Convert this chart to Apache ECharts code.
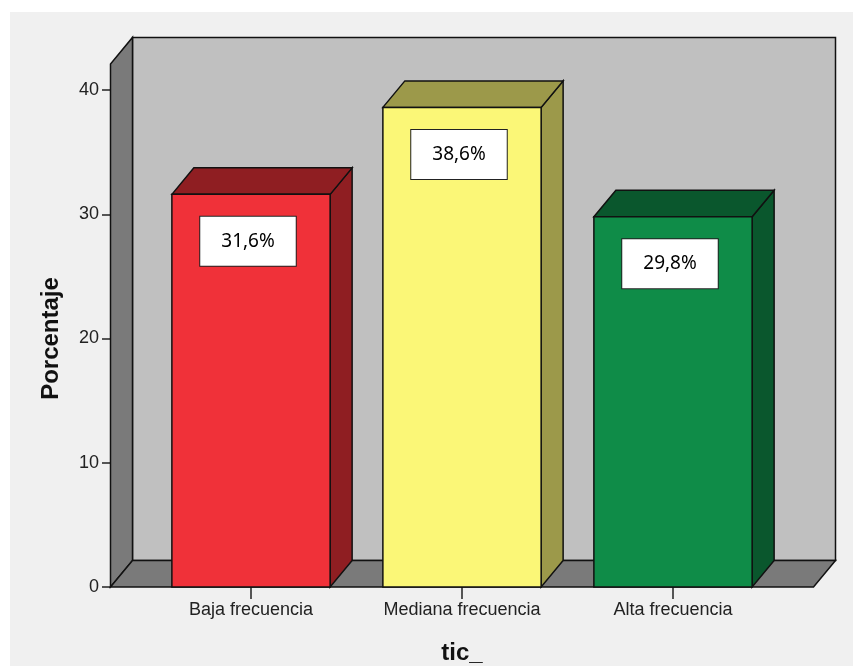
<!DOCTYPE html>
<html>
<head>
<meta charset="utf-8">
<script src="https://cdn.jsdelivr.net/npm/echarts@6/dist/echarts.min.js"></script>
<style>
  html, body { margin: 0; padding: 0; background: #ffffff; overflow: hidden; }
  #chart { width: 864px; height: 666px; }
</style>
</head>
<body>
<div id="chart"></div>
<script>
// ---- data ----
const categories = ['Baja frecuencia', 'Mediana frecuencia', 'Alta frecuencia'];
const percentages = [31.6, 38.6, 29.8];
const yTicks = [0, 10, 20, 30, 40];

// ---- styles ----
const frontColors = ['#f03139', '#fbf777', '#0f8c48'];
const darkColors = ['#8f1e22', '#9c994a', '#0a572d'];
const EDGE = '#111111';
const DX = 22, DY = -26.5;       // 3D depth offset (px)
const WALL_PAD = 35;             // walls extend beyond category band (px)
const WALL_TOP = 42.1;           // top of the frame in value units (front plane)
const FONT = '"Liberation Sans", Arial, sans-serif';

const chart = echarts.init(document.getElementById('chart'), null, { renderer: 'canvas' });

function fmt(v) { return v.toFixed(1).replace('.', ',') + '%'; }

function renderWalls(params, api) {
  const band = api.size([1, 0])[0];
  const c0 = api.coord([0, 0]);
  const cN = api.coord([categories.length - 1, 0]);
  const L = c0[0] - band / 2 - WALL_PAD;
  const R = cN[0] + band / 2 + WALL_PAD;
  const B = c0[1];
  const T = api.coord([0, WALL_TOP])[1];
  const st = (fill) => ({ fill: fill, stroke: EDGE, lineWidth: 1.5 });
  return {
    type: 'group',
    children: [
      { type: 'polygon', shape: { points: [[L + DX, T + DY], [R + DX, T + DY], [R + DX, B + DY], [L + DX, B + DY]] }, style: st('#c0c0c0') },
      { type: 'polygon', shape: { points: [[L, B], [L, T], [L + DX, T + DY], [L + DX, B + DY]] }, style: st('#7a7a7a') },
      { type: 'polygon', shape: { points: [[L, B], [R, B], [R + DX, B + DY], [L + DX, B + DY]] }, style: st('#7a7a7a') }
    ]
  };
}

function renderBar(params, api) {
  const i = api.value(0);
  const v = api.value(1);
  const band = api.size([1, 0])[0];
  const w = band * 0.75;
  const base = api.coord([i, 0]);
  const top = api.coord([i, v]);
  const x0 = base[0] - w / 2, x1 = base[0] + w / 2;
  const yB = base[1], yT = top[1];
  const st = (fill) => ({ fill: fill, stroke: EDGE, lineWidth: 1.5 });
  return {
    type: 'group',
    children: [
      { type: 'polygon', shape: { points: [[x1, yB], [x1, yT], [x1 + DX, yT + DY], [x1 + DX, yB + DY]] }, style: st(darkColors[i]) },
      { type: 'polygon', shape: { points: [[x0, yT], [x0 + DX, yT + DY], [x1 + DX, yT + DY], [x1, yT]] }, style: st(darkColors[i]) },
      { type: 'rect', shape: { x: x0, y: yT, width: w, height: yB - yT }, style: st(frontColors[i]) },
      {
        type: 'text',
        x: base[0] - 3,
        y: yT + 47,
        style: {
          text: fmt(v),
          align: 'center',
          verticalAlign: 'middle',
          font: '19px "Noto Sans", "Open Sans", sans-serif',
          fill: '#000',
          backgroundColor: '#ffffff',
          borderColor: '#222',
          borderWidth: 1,
          padding: [16, 21, 14, 21]
        }
      }
    ]
  };
}

const option = {
  animation: false,
  backgroundColor: '#ffffff',
  graphic: [
    { type: 'rect', left: 10, top: 12, z: -10, shape: { width: 843, height: 654 }, style: { fill: '#f0f0f0' }, silent: true }
  ],
  grid: { left: 145.5, right: 85.5, top: 90, bottom: 79, containLabel: false, outerBoundsMode: 'none' },
  xAxis: {
    type: 'category',
    data: categories,
    axisLine: { show: false },
    axisTick: { show: true, alignWithLabel: true, length: 12, lineStyle: { color: '#222', width: 1.5 } },
    axisLabel: { fontSize: 18, color: '#222', fontFamily: FONT, margin: 14 },
    name: 'tic_',
    nameLocation: 'middle',
    nameGap: 54,
    nameTextStyle: { fontSize: 24, fontWeight: 'bold', color: '#111', fontFamily: FONT, verticalAlign: 'top' },
    splitLine: { show: false }
  },
  yAxis: {
    type: 'value',
    min: yTicks[0],
    max: yTicks[yTicks.length - 1],
    interval: yTicks[1] - yTicks[0],
    offset: 35.5,
    axisLine: { show: false },
    axisTick: { show: true, length: 8, lineStyle: { color: '#222', width: 1.5 } },
    axisLabel: { fontSize: 18, color: '#222', fontFamily: FONT, margin: 11 },
    splitLine: { show: false },
    name: 'Porcentaje',
    nameLocation: 'middle',
    nameGap: 47,
    nameRotate: 90,
    nameTextStyle: { fontSize: 24, fontWeight: 'bold', color: '#111', fontFamily: FONT }
  },
  series: [
    {
      type: 'custom',
      renderItem: renderWalls,
      data: [[0, 0]],
      z: 1,
      silent: true,
      clip: false
    },
    {
      type: 'custom',
      renderItem: renderBar,
      data: percentages.map((p, i) => [i, p]),
      encode: { x: 0, y: 1 },
      z: 2,
      clip: false
    }
  ]
};

chart.setOption(option);
</script>
</body>
</html>
